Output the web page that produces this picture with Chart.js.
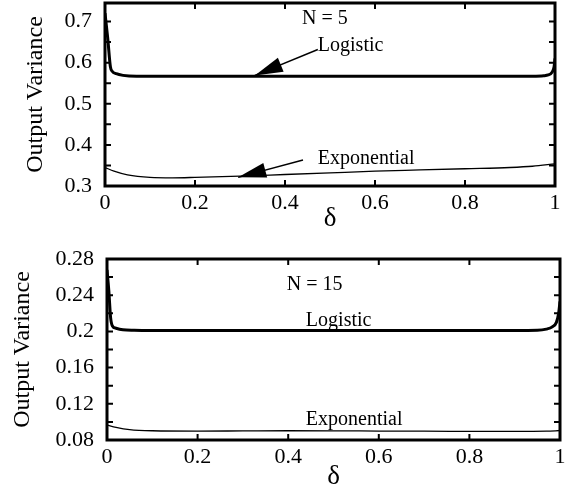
<!DOCTYPE html>
<html>
<head>
<meta charset="utf-8">
<script src="https://cdn.jsdelivr.net/npm/chart.js@4.4.0/dist/chart.umd.min.js"></script>
<style>
  html, body { margin: 0; padding: 0; background: #fff; }
  #wrap { position: relative; width: 572px; height: 495px; }
  canvas { position: absolute; left: 0; }
  #chartTop { top: 0; }
  #chartBottom { top: 240px; }
</style>
</head>
<body>
<div id="wrap">
  <canvas id="chartTop" width="572" height="240"></canvas>
  <canvas id="chartBottom" width="572" height="255"></canvas>
</div>
<script>
// ── Data ─────────────────────────────────────────────────────────────────────

// N = 5
const logTopDelta = [0, 0.006, 0.012, 0.016, 0.025, 0.04, 0.07, 0.1, 0.2, 0.3, 0.4, 0.5, 0.6, 0.7, 0.8, 0.9, 0.95, 0.975, 0.985, 0.993, 0.998, 1];
const logTopVar   = [0.72, 0.66, 0.59, 0.579, 0.573, 0.569, 0.567, 0.567, 0.567, 0.567, 0.567, 0.567, 0.567, 0.567, 0.567, 0.567, 0.567, 0.568, 0.570, 0.576, 0.590, 0.610];
const expTopDelta = [0, 0.02, 0.05, 0.1, 0.15, 0.2, 0.3, 0.4, 0.5, 0.6, 0.7, 0.8, 0.9, 0.95, 1];
const expTopVar   = [0.345, 0.336, 0.327, 0.321, 0.320, 0.321, 0.324, 0.328, 0.332, 0.336, 0.339, 0.342, 0.345, 0.348, 0.354];

// N = 15
const logBotDelta = [0, 0.004, 0.008, 0.012, 0.02, 0.035, 0.06, 0.1, 0.2, 0.3, 0.4, 0.5, 0.6, 0.7, 0.8, 0.9, 0.95, 0.97, 0.983, 0.992, 0.997, 1];
const logBotVar   = [0.268, 0.245, 0.215, 0.206, 0.2035, 0.2018, 0.2012, 0.201, 0.201, 0.201, 0.201, 0.201, 0.201, 0.201, 0.201, 0.201, 0.2012, 0.2025, 0.205, 0.210, 0.220, 0.233];
const expBotDelta = [0, 0.02, 0.05, 0.1, 0.2, 0.3, 0.4, 0.5, 0.6, 0.7, 0.8, 0.9, 0.97, 1];
const expBotVar   = [0.0965, 0.094, 0.0915, 0.0902, 0.0898, 0.0900, 0.0902, 0.0901, 0.0899, 0.0897, 0.0896, 0.0895, 0.0897, 0.0905];

// Axis ticks
const xTicks       = [0, 0.2, 0.4, 0.6, 0.8, 1];
const xTickLabels  = ['0', '0.2', '0.4', '0.6', '0.8', '1'];
const yTicksTop    = [0.3, 0.4, 0.5, 0.6, 0.7];
const yLabelsTop   = ['0.3', '0.4', '0.5', '0.6', '0.7'];
const yMinorTop    = [0.3, 0.35, 0.4, 0.45, 0.5, 0.55, 0.6, 0.65, 0.7];
const yTicksBot    = [0.08, 0.12, 0.16, 0.2, 0.24, 0.28];
const yLabelsBot   = ['0.08', '0.12', '0.16', '0.2', '0.24', '0.28'];
const yMinorBot    = [0.08, 0.1, 0.12, 0.14, 0.16, 0.18, 0.2, 0.22, 0.24, 0.26, 0.28];

// Annotations (data coordinates: [delta, variance])
const notesTop = [
  { text: 'N = 5',       at: [0.438, 0.695] },
  { text: 'Logistic',    at: [0.473, 0.628] },
  { text: 'Exponential', at: [0.473, 0.354] },
];
const arrowsTop = [
  { from: [0.473, 0.632], to: [0.333, 0.569] },
  { from: [0.440, 0.363], to: [0.296, 0.321] },
];
const notesBot = [
  { text: 'N = 15',      at: [0.397, 0.2457] },
  { text: 'Logistic',    at: [0.439, 0.206] },
  { text: 'Exponential', at: [0.439, 0.0966] },
];

// ── Helpers ──────────────────────────────────────────────────────────────────

const SERIF = "'Liberation Serif', 'Times New Roman', serif";
const pts = (xs, ys) => xs.map((x, i) => ({ x, y: ys[i] }));

const framePlugin = {
  id: 'frame',
  afterDatasetsDraw(chart, args, opts) {
    const { ctx, chartArea: a, scales: { x, y } } = chart;
    ctx.save();
    ctx.strokeStyle = '#000';
    ctx.lineCap = 'butt';

    // inward ticks
    ctx.lineWidth = 2;
    ctx.beginPath();
    for (const v of xTicks) {
      const px = x.getPixelForValue(v);
      ctx.moveTo(px, a.bottom); ctx.lineTo(px, a.bottom - 6);
      ctx.moveTo(px, a.top);    ctx.lineTo(px, a.top + 6);
    }
    for (const v of opts.yMinor) {
      const py = y.getPixelForValue(v);
      ctx.moveTo(a.left, py);  ctx.lineTo(a.left + 6, py);
      ctx.moveTo(a.right, py); ctx.lineTo(a.right - 6, py);
    }
    ctx.stroke();

    // frame
    ctx.lineWidth = 3;
    ctx.strokeRect(a.left, a.top, a.right - a.left, a.bottom - a.top);

    // arrows
    ctx.fillStyle = '#000';
    for (const ar of opts.arrows || []) {
      const x0 = x.getPixelForValue(ar.from[0]), y0 = y.getPixelForValue(ar.from[1]);
      const x1 = x.getPixelForValue(ar.to[0]),   y1 = y.getPixelForValue(ar.to[1]);
      ctx.lineWidth = 1.5;
      ctx.beginPath(); ctx.moveTo(x0, y0); ctx.lineTo(x1, y1); ctx.stroke();
      const ang = Math.atan2(y0 - y1, x0 - x1);
      const len = 28, hw = 7.5;
      const bx = x1 + len * Math.cos(ang), by = y1 + len * Math.sin(ang);
      ctx.beginPath();
      ctx.moveTo(x1, y1);
      ctx.lineTo(bx - hw * Math.sin(ang), by + hw * Math.cos(ang));
      ctx.lineTo(bx + hw * Math.sin(ang), by - hw * Math.cos(ang));
      ctx.closePath();
      ctx.fill();
    }

    // labels
    ctx.font = `20px ${SERIF}`;
    ctx.textAlign = 'left';
    ctx.textBaseline = 'alphabetic';
    for (const n of opts.notes) {
      ctx.fillText(n.text, x.getPixelForValue(n.at[0]), y.getPixelForValue(n.at[1]));
    }
    ctx.restore();
  },
};

function makeChart(id, cfg) {
  return new Chart(document.getElementById(id), {
    type: 'line',
    data: {
      datasets: [
        { label: 'Logistic', data: cfg.logistic, borderColor: '#000', borderWidth: 3,
          pointRadius: 0, cubicInterpolationMode: 'monotone', fill: false },
        { label: 'Exponential', data: cfg.exponential, borderColor: '#000', borderWidth: 1.3,
          pointRadius: 0, cubicInterpolationMode: 'monotone', fill: false },
      ],
    },
    options: {
      responsive: false,
      animation: false,
      devicePixelRatio: 1,
      layout: { padding: cfg.padding },
      plugins: {
        legend: { display: false },
        tooltip: { enabled: false },
        frame: { yMinor: cfg.yMinor, notes: cfg.notes, arrows: cfg.arrows },
      },
      scales: {
        x: {
          type: 'linear', min: 0, max: 1,
          afterBuildTicks: s => { s.ticks = xTicks.map(v => ({ value: v })); },
          afterFit: s => { s.height = cfg.xHeight; s.paddingLeft = 0; s.paddingRight = 0; },
          ticks: {
            color: '#000', padding: 4, maxRotation: 0, autoSkip: false,
            font: { family: SERIF, size: 22 },
            callback: (v, i) => xTickLabels[i],
          },
          grid: { display: false, drawTicks: false },
          border: { display: false },
          title: { display: true, text: 'δ', color: '#000',
                   font: { family: SERIF, size: 27 }, padding: { bottom: cfg.xTitlePad } },
        },
        y: {
          type: 'linear', min: cfg.yMin, max: cfg.yMax,
          afterBuildTicks: s => { s.ticks = cfg.yTicks.map(v => ({ value: v })); },
          afterFit: s => { s.width = cfg.yWidth; s.paddingTop = 0; s.paddingBottom = 0; },
          ticks: {
            color: '#000', padding: 13, autoSkip: false,
            font: { family: SERIF, size: 22 },
            callback: (v, i) => cfg.yLabels[i],
          },
          grid: { display: false, drawTicks: false },
          border: { display: false },
          title: { display: true, text: 'Output Variance', color: '#000',
                   font: { family: SERIF, size: 24 }, padding: { top: cfg.yTitlePad } },
        },
      },
    },
    plugins: [framePlugin],
  });
}

// ── Charts ───────────────────────────────────────────────────────────────────

makeChart('chartTop', {
  logistic: pts(logTopDelta, logTopVar),
  exponential: pts(expTopDelta, expTopVar),
  yMin: 0.3, yMax: 0.745,
  yTicks: yTicksTop, yLabels: yLabelsTop, yMinor: yMinorTop,
  notes: notesTop, arrows: arrowsTop,
  padding: { top: 3, right: 17, left: 0, bottom: 0 },
  xHeight: 54, yWidth: 105, xTitlePad: 5, yTitlePad: 21,
});

makeChart('chartBottom', {
  logistic: pts(logBotDelta, logBotVar),
  exponential: pts(expBotDelta, expBotVar),
  yMin: 0.08, yMax: 0.28,
  yTicks: yTicksBot, yLabels: yLabelsBot, yMinor: yMinorBot,
  notes: notesBot, arrows: [],
  padding: { top: 19, right: 12, left: 0, bottom: 0 },
  xHeight: 55, yWidth: 107, xTitlePad: 2, yTitlePad: 8,
});
</script>
</body>
</html>
